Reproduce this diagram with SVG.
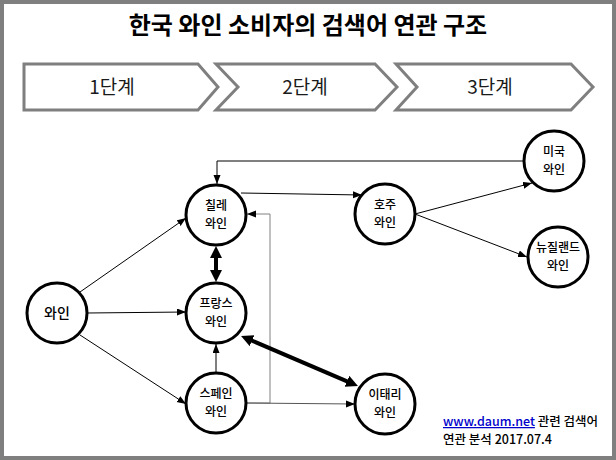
<svg xmlns="http://www.w3.org/2000/svg" width="616" height="460" viewBox="0 0 616 460">
<style>
.frame{fill:#fff;stroke:#7f7f7f;stroke-width:4}
.chev{fill:#fff;stroke:#7f7f7f;stroke-width:3;stroke-linejoin:miter}
.ct{font-family:"Noto Sans CJK KR","Noto Sans",sans-serif;font-size:19px;fill:#1a1a1a;text-anchor:middle}
.title{font-family:"Noto Sans CJK KR","Noto Sans",sans-serif;font-size:24px;font-weight:bold;fill:#000;text-anchor:middle}
.node circle{fill:#fff;stroke:#000;stroke-width:3}
.node text{font-family:"Noto Sans CJK KR","Noto Sans",sans-serif;font-size:12px;font-weight:500;fill:#000;text-anchor:middle}
.thin{fill:none;stroke:#000;stroke-width:1;marker-end:url(#a)}
.gray{fill:none;stroke:#808080;stroke-width:1;marker-end:url(#a)}
.thick{fill:none;stroke:#000;stroke-width:4;marker-start:url(#b);marker-end:url(#b)}
.foot{font-family:"Noto Sans CJK KR","Noto Sans",sans-serif;font-size:12.5px;font-weight:500;fill:#000}
</style>
<defs>
<marker id="a" markerUnits="userSpaceOnUse" markerWidth="10" markerHeight="8" refX="9" refY="3.5" orient="auto"><path d="M0,0 L9,3.5 L0,7 z" fill="#000"/></marker>
<marker id="b" markerUnits="userSpaceOnUse" markerWidth="13" markerHeight="13" refX="4" refY="6" orient="auto-start-reverse"><path d="M0,0 L12,6 L0,12 z" fill="#000"/></marker>
</defs>
<rect class="frame" x="2" y="2" width="612" height="456"/>
<text class="title" x="308" y="34">한국 와인 소비자의 검색어 연관 구조</text>
<g id="stage1"><polygon class="chev" points="24,64 198,64 218,87 198,110 24,110"/><text class="ct" x="112" y="94">1단계</text></g>
<g id="stage2"><polygon class="chev" points="216,64 375,64 397,87 375,110 216,110 238,87"/><text class="ct" x="305" y="94">2단계</text></g>
<g id="stage3"><polygon class="chev" points="396,64 571,64 593,87 571,110 396,110 417,87"/><text class="ct" x="490" y="94">3단계</text></g>
<g id="connectors">
<path class="thin" d="M80,292 L186,218"/>
<path class="thin" d="M87,313 L186,312"/>
<path class="thin" d="M80,335 L186,404"/>
<path class="thin" d="M216,373 L216,344"/>
<path class="thin" d="M241,193 L362,195"/>
<path class="thin" d="M524,161 L217,161 L217,184"/>
<path class="thin" d="M415,214 L532,183"/>
<path class="thin" d="M415,214 L527,257"/>
<path class="gray" d="M246,403 L270,403 L270,214 L247,214"/>
<path class="thin" style="stroke:#555" d="M246,403 L355,404"/>
<path class="thick" d="M216,254 L216,274"/>
<path class="thick" d="M248.4,339.1 L350.6,382.9"/>
</g>
<g id="n-wine" class="node"><circle cx="57" cy="313" r="30"/><text x="57" y="318" style="font-size:14px">와인</text></g>
<g id="n-chile" class="node"><circle cx="216" cy="215" r="30"/><text x="216" y="210">칠레</text><text x="216" y="227.5">와인</text></g>
<g id="n-france" class="node"><circle cx="216" cy="313" r="30"/><text x="216" y="308">프랑스</text><text x="216" y="325.5">와인</text></g>
<g id="n-spain" class="node"><circle cx="216" cy="403" r="30"/><text x="216" y="398">스페인</text><text x="216" y="415.5">와인</text></g>
<g id="n-australia" class="node"><circle cx="385" cy="214" r="30"/><text x="385" y="209">호주</text><text x="385" y="226.5">와인</text></g>
<g id="n-usa" class="node"><circle cx="554" cy="161" r="30"/><text x="554" y="156">미국</text><text x="554" y="173.5">와인</text></g>
<g id="n-nz" class="node"><circle cx="558" cy="257" r="30"/><text x="558" y="252">뉴질랜드</text><text x="558" y="269.5">와인</text></g>
<g id="n-italy" class="node"><circle cx="385" cy="404" r="30"/><text x="385" y="399">이태리</text><text x="385" y="416.5">와인</text></g>
<text class="foot" x="443" y="426"><tspan fill="#0000cc" text-decoration="underline">www.daum.net</tspan> 관련 검색어</text>
<text class="foot" x="443" y="444">연관 분석 2017.07.4</text>
</svg>
